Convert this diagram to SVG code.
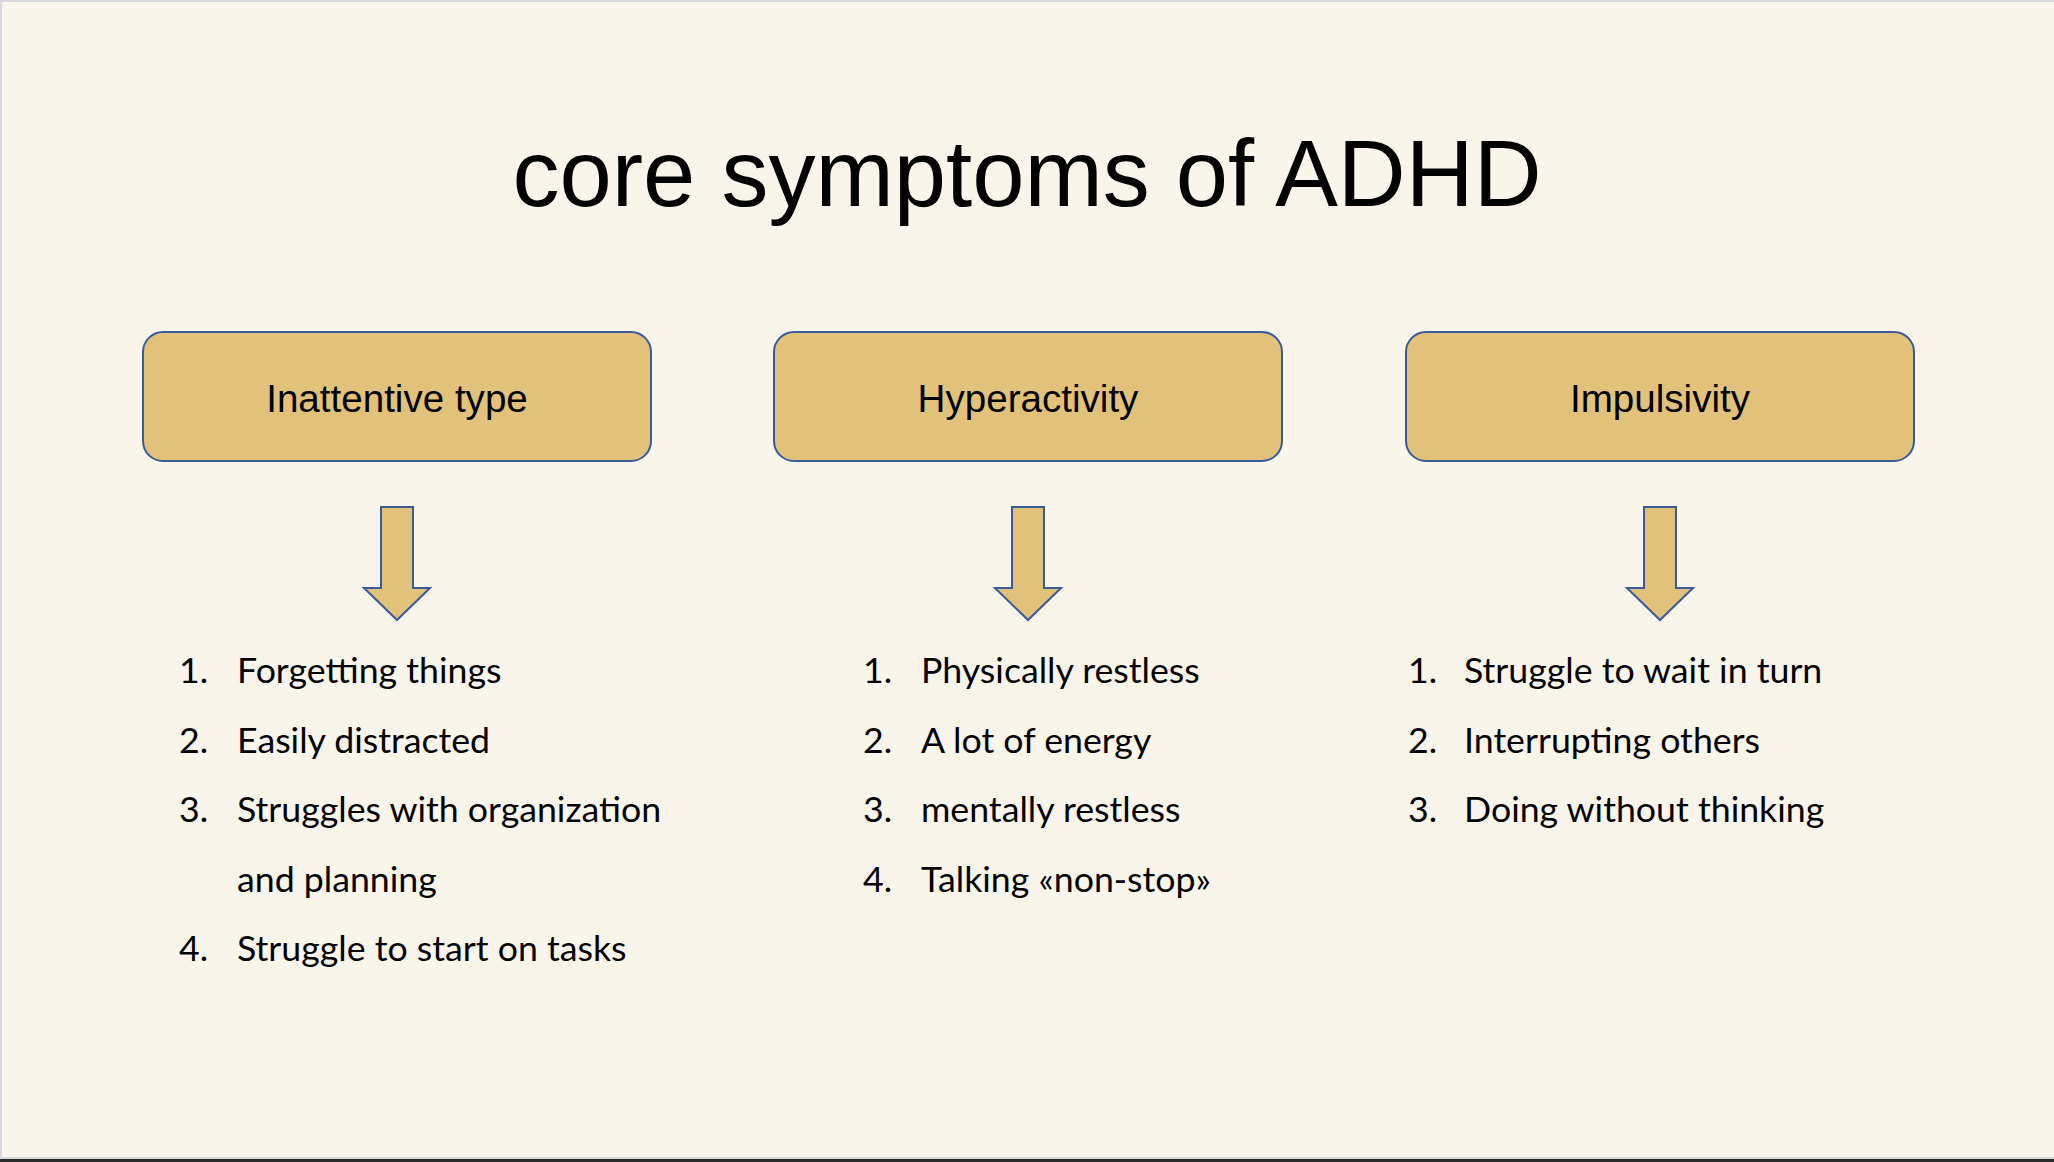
<svg xmlns="http://www.w3.org/2000/svg" width="2054" height="1162" viewBox="0 0 2054 1162">
<defs>
<style>
.bg{fill:#F9F5EB}
.box{fill:#E2C27A;stroke:#3A5A98;stroke-width:2}
.arrow{fill:#E2C27A;stroke:#3A5A98;stroke-width:2;stroke-linejoin:miter}
.title{font-family:"Liberation Sans",Arial,sans-serif;font-size:94px;fill:#000;text-anchor:middle}
.label{font-family:"Liberation Sans",Arial,sans-serif;font-size:38.6px;fill:#000;text-anchor:middle}
.item{font-family:Lato,"Open Sans",sans-serif;font-size:35.7px;fill:#000}
</style>
</defs>
<rect class="bg" x="0" y="0" width="2054" height="1162"/>
<rect x="0" y="0" width="2054" height="2" fill="#D8D8DC"/>
<rect x="0" y="0" width="2" height="1162" fill="#D8D8DC"/>
<rect x="0" y="1157" width="2054" height="2" fill="#D8D8D8"/>
<rect x="0" y="1159" width="2054" height="3" fill="#2A2A2A"/>

<text class="title" x="1027" y="206">core symptoms of ADHD</text>

<g id="node-inattentive">
<rect class="box" x="143" y="332" width="508" height="129" rx="20"/>
<text class="label" x="397" y="412">Inattentive type</text>
</g>
<g id="node-hyperactivity">
<rect class="box" x="774" y="332" width="508" height="129" rx="20"/>
<text class="label" x="1028" y="412">Hyperactivity</text>
</g>
<g id="node-impulsivity">
<rect class="box" x="1406" y="332" width="508" height="129" rx="20"/>
<text class="label" x="1660" y="412">Impulsivity</text>
</g>

<g id="connectors">
<path class="arrow" d="M381,507 H413 V588 H430 L397,620 L364,588 H381 Z"/>
<path class="arrow" d="M1012,507 H1044 V588 H1061 L1028,620 L995,588 H1012 Z"/>
<path class="arrow" d="M1644,507 H1676 V588 H1693 L1660,620 L1627,588 H1644 Z"/>
</g>

<g id="list-inattentive">
<text class="item" x="179" y="683">1.</text><text class="item" x="237" y="683">Forgetting things</text>
<text class="item" x="179" y="753">2.</text><text class="item" x="237" y="753">Easily distracted</text>
<text class="item" x="179" y="822">3.</text><text class="item" x="237" y="822">Struggles with organization</text>
<text class="item" x="237" y="892">and planning</text>
<text class="item" x="179" y="961">4.</text><text class="item" x="237" y="961">Struggle to start on tasks</text>
</g>
<g id="list-hyperactivity">
<text class="item" x="863" y="683">1.</text><text class="item" x="921" y="683">Physically restless</text>
<text class="item" x="863" y="753">2.</text><text class="item" x="921" y="753">A lot of energy</text>
<text class="item" x="863" y="822">3.</text><text class="item" x="921" y="822">mentally restless</text>
<text class="item" x="863" y="892">4.</text><text class="item" x="921" y="892">Talking «non-stop»</text>
</g>
<g id="list-impulsivity">
<text class="item" x="1408" y="683">1.</text><text class="item" x="1464" y="683">Struggle to wait in turn</text>
<text class="item" x="1408" y="753">2.</text><text class="item" x="1464" y="753">Interrupting others</text>
<text class="item" x="1408" y="822">3.</text><text class="item" x="1464" y="822">Doing without thinking</text>
</g>
</svg>
